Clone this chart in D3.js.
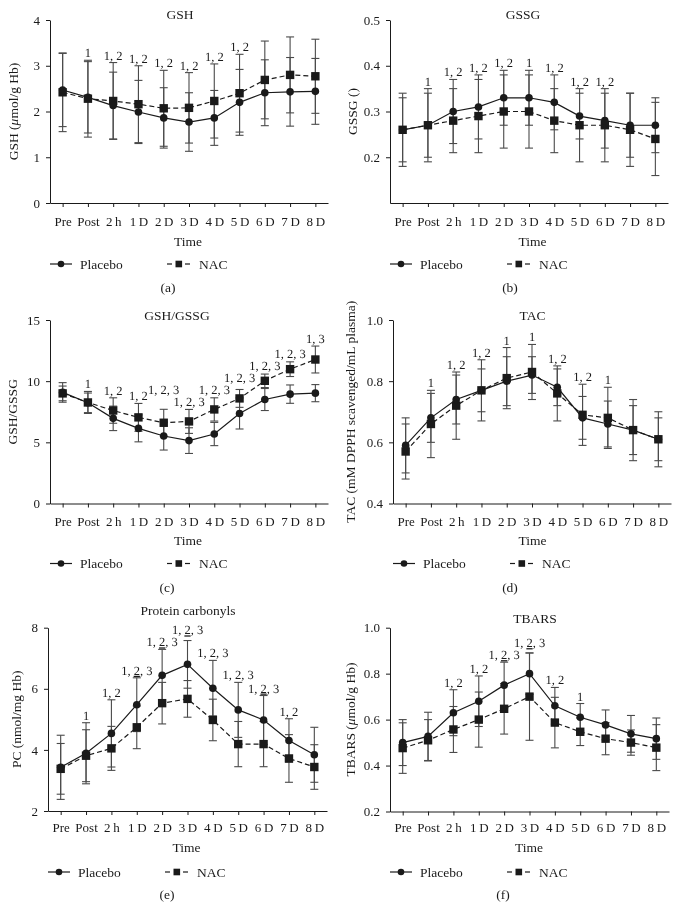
<!DOCTYPE html>
<html><head><meta charset="utf-8">
<script src="https://cdn.jsdelivr.net/npm/d3@7"></script>
<style>
body{margin:0;background:#fff;}
svg{display:block;font-family:"Liberation Serif","Times New Roman",serif;will-change:transform;-webkit-font-smoothing:antialiased;}
</style></head><body>
<svg id="chart" width="679" height="921"></svg>
<script>
// ---------- data ----------
const categories = ["Pre","Post","2\u2009h","1\u2009D","2\u2009D","3\u2009D","4\u2009D","5\u2009D","6\u2009D","7\u2009D","8\u2009D"];
const seriesNames = ["Placebo","NAC"];

const gshPlacebo   = [2.47,2.31,2.13,1.99,1.86,1.77,1.86,2.20,2.41,2.43,2.44];
const gshPlaceboSD = [0.80,0.78,0.73,0.69,0.66,0.64,0.60,0.72,0.72,0.75,0.72];
const gshNAC       = [2.42,2.28,2.23,2.16,2.07,2.08,2.23,2.40,2.69,2.80,2.77];
const gshNACSD     = [0.86,0.84,0.84,0.84,0.83,0.77,0.81,0.85,0.85,0.83,0.81];
const gshLabels    = ["","1","1, 2","1, 2","1, 2","1, 2","1, 2","1, 2","","",""];
const gshTicks     = [0,1,2,3,4];

const gssgPlacebo   = [0.26,0.27,0.30,0.31,0.33,0.33,0.32,0.29,0.28,0.27,0.27];
const gssgPlaceboSD = [0.08,0.08,0.07,0.07,0.06,0.06,0.06,0.05,0.06,0.07,0.06];
const gssgNAC       = [0.26,0.27,0.28,0.29,0.30,0.30,0.28,0.27,0.27,0.26,0.24];
const gssgNACSD     = [0.07,0.07,0.07,0.08,0.08,0.08,0.07,0.08,0.08,0.08,0.08];
const gssgLabels    = ["","1","1, 2","1, 2","1, 2","1","1, 2","1, 2","1, 2","",""];
const gssgTicks     = [0.2,0.3,0.4,0.5];

const ratioPlacebo   = [9.08,8.23,6.96,6.14,5.52,5.14,5.68,7.36,8.50,8.94,9.02];
const ratioPlaceboSD = [0.80,0.80,1.00,1.10,1.15,1.05,0.95,1.27,0.90,0.75,0.70];
const ratioNAC       = [9.00,8.26,7.60,7.04,6.60,6.71,7.69,8.59,10.03,10.98,11.77];
const ratioNACSD     = [0.60,0.90,1.04,1.14,1.10,0.98,0.95,0.73,0.55,0.60,1.10];
const ratioLabels    = ["","1","1, 2","1, 2","1, 2, 3","1, 2, 3","1, 2, 3","1, 2, 3","1, 2, 3","1, 2, 3","1, 3"];
const ratioTicks     = [0,5,10,15];

const tacPlacebo   = [0.59,0.68,0.74,0.77,0.80,0.82,0.78,0.68,0.66,0.64,0.61];
const tacPlaceboSD = [0.09,0.08,0.08,0.07,0.08,0.06,0.06,0.07,0.075,0.08,0.07];
const tacNAC       = [0.57,0.66,0.72,0.77,0.81,0.83,0.76,0.69,0.68,0.64,0.61];
const tacNACSD     = [0.09,0.11,0.11,0.10,0.10,0.09,0.09,0.10,0.10,0.10,0.09];
const tacLabels    = ["","1","1, 2","1, 2","1","1","1, 2","1, 2","1","",""];
const tacTicks     = [0.4,0.6,0.8,1.0];

const pcPlacebo   = [3.43,3.89,4.54,5.48,6.44,6.80,6.02,5.31,4.98,4.31,3.84];
const pcPlaceboSD = [1.05,1.00,1.10,0.88,0.85,0.78,0.91,0.90,0.80,0.71,0.90];
const pcNAC       = [3.38,3.81,4.05,4.74,5.53,5.67,4.98,4.19,4.19,3.72,3.44];
const pcNACSD     = [0.83,0.85,0.72,0.70,0.68,0.60,0.68,0.74,0.74,0.78,0.73];
const pcLabels    = ["","1","1, 2","1, [2], 3","1, [2], 3","1, [2], 3","1, 2, 3","1, 2, 3","1, [2], 3","1, 2",""];
const pcTicks     = [2,4,6,8];

const tbarsPlacebo   = [0.500,0.527,0.63,0.68,0.75,0.80,0.66,0.61,0.577,0.538,0.517];
const tbarsPlaceboSD = [0.10,0.105,0.10,0.11,0.10,0.09,0.08,0.06,0.065,0.08,0.09];
const tbarsNAC       = [0.476,0.51,0.557,0.60,0.647,0.70,0.587,0.547,0.517,0.50,0.478];
const tbarsNACSD     = [0.11,0.09,0.10,0.12,0.11,0.19,0.11,0.06,0.07,0.055,0.10];
const tbarsLabels    = ["","","1, 2","1, 2","1, [2], 3","1, [2], 3","1, 2","1","","",""];
const tbarsTicks     = [0.2,0.4,0.6,0.8,1.0];

// ---------- layout ----------
const rows = [
  {tick:221, time:241, legend:264, caption:287},
  {tick:521, time:540, legend:563.5, caption:587},
  {tick:827, time:847, legend:872, caption:894}
];

const panels = [
  {cap:"(a)", title:"GSH", ylab:[["GSH (",""],["\u03bc","italic"],["mol/g Hb)",""]],
   p:gshPlacebo, ps:gshPlaceboSD, n:gshNAC, ns:gshNACSD, lab:gshLabels, ticks:gshTicks, dom:[0,4], fmt:d3.format("d"),
   x0:50, x1:328, yTop:20, yBot:203, titleX:180, titleY:14, ylabX:13.5, timeX:188, capX:168, row:rows[0]},
  {cap:"(b)", title:"GSSG", ylab:[["GSSG ()",""]],
   p:gssgPlacebo, ps:gssgPlaceboSD, n:gssgNAC, ns:gssgNACSD, lab:gssgLabels, ticks:gssgTicks, dom:[0.1,0.5], fmt:d3.format(".1f"),
   x0:390, x1:668, yTop:20, yBot:203, titleX:523, titleY:14, ylabX:352.5, timeX:532.5, capX:510, row:rows[0]},
  {cap:"(c)", title:"GSH/GSSG", ylab:[["GSH/GSSG",""]],
   p:ratioPlacebo, ps:ratioPlaceboSD, n:ratioNAC, ns:ratioNACSD, lab:ratioLabels, ticks:ratioTicks, dom:[0,15], fmt:d3.format("d"),
   x0:50, x1:328, yTop:320, yBot:503.5, titleX:177, titleY:315.7, ylabX:12.5, timeX:188, capX:167, row:rows[1]},
  {cap:"(d)", title:"TAC", ylab:[["TAC (mM DPPH scavenged/mL plasma)",""]],
   p:tacPlacebo, ps:tacPlaceboSD, n:tacNAC, ns:tacNACSD, lab:tacLabels, ticks:tacTicks, dom:[0.4,1.0], fmt:d3.format(".1f"),
   x0:393, x1:671, yTop:320, yBot:503.5, titleX:532.5, titleY:315.7, ylabX:350, timeX:532.5, capX:510, row:rows[1]},
  {cap:"(e)", title:"Protein carbonyls", ylab:[["PC (nmol/mg Hb)",""]],
   p:pcPlacebo, ps:pcPlaceboSD, n:pcNAC, ns:pcNACSD, lab:pcLabels, ticks:pcTicks, dom:[2,8], fmt:d3.format("d"),
   x0:48, x1:327, yTop:627.7, yBot:811, titleX:188, titleY:610, ylabX:16, timeX:186.5, capX:167, row:rows[2]},
  {cap:"(f)", title:"TBARS", ylab:[["TBARS (",""],["\u03bc","italic"],["mol/g Hb)",""]],
   p:tbarsPlacebo, ps:tbarsPlaceboSD, n:tbarsNAC, ns:tbarsNACSD, lab:tbarsLabels, ticks:tbarsTicks, dom:[0.2,1.0], fmt:d3.format(".1f"),
   x0:390, x1:669, yTop:627.7, yBot:811.5, titleX:535, titleY:618, ylabX:350, timeX:529, capX:503, row:rows[2]}
];

const INK = "#1a1a1a", BAR = "#4a4a4a";
const svg = d3.select("#chart");

panels.forEach(pn => {
  const g = svg.append("g");
  const x = d3.scalePoint().domain(categories).range([pn.x0, pn.x1]).padding(0.5);
  const y = d3.scaleLinear().domain(pn.dom).range([pn.yBot, pn.yTop]);

  // axes
  const ya = g.append("g").attr("transform",`translate(${pn.x0},0)`)
    .call(d3.axisLeft(y).tickValues(pn.ticks).tickFormat(pn.fmt).tickSize(4).tickSizeOuter(0).tickPadding(6));
  const xa = g.append("g").attr("transform",`translate(0,${pn.yBot})`)
    .call(d3.axisBottom(x).tickSize(4).tickSizeOuter(0).tickPadding(10));
  [ya, xa].forEach(a => {
    a.selectAll("path,line").attr("stroke", INK).attr("stroke-width", 1);
    a.selectAll("text").attr("fill", INK).style("font-family",'"Liberation Serif",serif');
  });
  ya.selectAll("text").style("font-size","13px");
  xa.selectAll("text").style("font-size","13px").attr("dy", null)
    .attr("y", pn.row.tick - pn.yBot + 4.5);

  // title
  g.append("text").attr("x", pn.titleX).attr("y", pn.titleY + 4.5).attr("text-anchor","middle")
    .style("font-size","13.5px").attr("fill", INK).text(pn.title);

  // y label
  const yl = g.append("text").attr("text-anchor","middle").style("font-size","13.5px").attr("fill", INK)
    .attr("transform", `translate(${pn.ylabX + 4.5},${(pn.yTop + pn.yBot)/2}) rotate(-90)`);
  pn.ylab.forEach(([t, st]) => yl.append("tspan").style("font-style", st || null).text(t));

  // Time label
  g.append("text").attr("x", pn.timeX).attr("y", pn.row.time + 4.5).attr("text-anchor","middle")
    .style("font-size","13.5px").attr("fill", INK).text("Time");

  // caption
  g.append("text").attr("x", pn.capX).attr("y", pn.row.caption + 4.5).attr("text-anchor","middle")
    .style("font-size","13.5px").attr("fill", INK).text(pn.cap);

  // legend
  const lx = pn.x0, ly = pn.row.legend;
  g.append("line").attr("x1", lx).attr("x2", lx + 22).attr("y1", ly).attr("y2", ly).attr("stroke", INK).attr("stroke-width", 1.2);
  g.append("circle").attr("cx", lx + 11).attr("cy", ly).attr("r", 3.3).attr("fill", INK);
  g.append("text").attr("x", lx + 30).attr("y", ly + 4.5).style("font-size","13.5px").attr("fill", INK).text(seriesNames[0]);
  g.append("line").attr("x1", lx + 117).attr("x2", lx + 122).attr("y1", ly).attr("y2", ly).attr("stroke", INK).attr("stroke-width", 1.2);
  g.append("line").attr("x1", lx + 135).attr("x2", lx + 140).attr("y1", ly).attr("y2", ly).attr("stroke", INK).attr("stroke-width", 1.2);
  g.append("rect").attr("x", lx + 125.5).attr("y", ly - 3.3).attr("width", 6.6).attr("height", 6.6).attr("fill", INK);
  g.append("text").attr("x", lx + 149).attr("y", ly + 4.5).style("font-size","13.5px").attr("fill", INK).text(seriesNames[1]);

  // error bars
  const drawErr = (vals, sds) => {
    const eg = g.append("g").attr("stroke", BAR).attr("stroke-width", 1.1);
    categories.forEach((c, i) => {
      const cx = x(c), yt = y(vals[i] + sds[i]), yb = y(vals[i] - sds[i]);
      eg.append("line").attr("x1", cx).attr("x2", cx).attr("y1", yt).attr("y2", yb);
      eg.append("line").attr("x1", cx - 4).attr("x2", cx + 4).attr("y1", yt).attr("y2", yt);
      eg.append("line").attr("x1", cx - 4).attr("x2", cx + 4).attr("y1", yb).attr("y2", yb);
    });
  };
  drawErr(pn.n, pn.ns);
  drawErr(pn.p, pn.ps);

  // lines
  const line = d3.line().x((d, i) => x(categories[i])).y(d => y(d));
  g.append("path").datum(pn.n).attr("d", line).attr("fill","none").attr("stroke", INK)
    .attr("stroke-width", 1.2).attr("stroke-dasharray","5,3");
  g.append("path").datum(pn.p).attr("d", line).attr("fill","none").attr("stroke", INK).attr("stroke-width", 1.2);

  // markers
  g.selectAll(".sq").data(pn.n).enter().append("rect")
    .attr("x", (d, i) => x(categories[i]) - 4.2).attr("y", d => y(d) - 4.2)
    .attr("width", 8.4).attr("height", 8.4).attr("fill", INK);
  g.selectAll(".ci").data(pn.p).enter().append("circle")
    .attr("cx", (d, i) => x(categories[i])).attr("cy", d => y(d)).attr("r", 3.8).attr("fill", INK);

  // significance annotations
  const items = [];
  pn.lab.forEach((s, i) => {
    if (!s) return;
    const top = Math.max(pn.p[i] + pn.ps[i], pn.n[i] + pn.ns[i]);
    const base = y(top) - 3;
    const t = g.append("text").attr("x", x(categories[i])).attr("y", base)
      .attr("text-anchor","middle").style("font-size","12.5px").attr("fill", INK)
      .attr("text-rendering","geometricPrecision");
    s.split(/(\[[^\]]*\])/).forEach(part => {
      if (!part) return;
      if (part.startsWith("[")) t.append("tspan").attr("text-decoration","underline").text(part.slice(1, -1));
      else t.append("tspan").text(part);
    });
    const bb = t.node().getBBox();
    items.push({t, base, left: bb.x + 1, right: bb.x + bb.width - 1});
  });
  // resolve collisions between neighbouring labels with the smallest vertical shift
  const SEP = 12;
  for (let k = 1; k < items.length; k++) {
    const a = items[k - 1], b = items[k];
    if (b.left < a.right && Math.abs(a.base - b.base) < SEP) {
      const dA = SEP - (a.base - b.base);   // raise b
      const dB = SEP - (b.base - a.base);   // raise a
      let okB = true;
      if (k >= 2) {
        const c = items[k - 2];
        if (a.left < c.right && Math.abs(c.base - (b.base - SEP)) < SEP) okB = false;
      }
      if (okB && dB <= dA) a.base = b.base - SEP; else b.base = a.base - SEP;
    }
  }
  items.forEach(it => it.t.attr("y", it.base));
});
</script>
</body></html>
